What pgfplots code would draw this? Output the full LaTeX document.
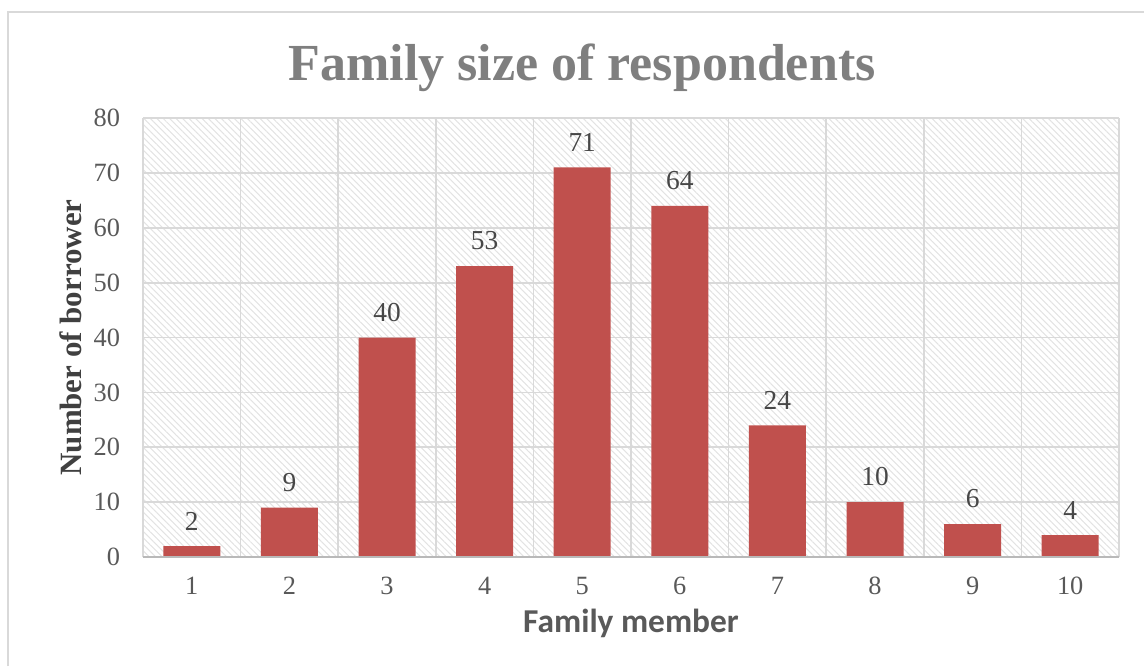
\documentclass[border=0pt]{standalone}
\usepackage{pgfplots}
\pgfplotsset{compat=1.18}
\usepackage{fontspec}
\setmainfont{Liberation Serif}
\newfontfamily\calibri{Carlito}
\usetikzlibrary{patterns.meta}

\definecolor{barred}{HTML}{C0504D}
\definecolor{gridgray}{HTML}{D9D9D9}
\definecolor{ticktext}{HTML}{595959}
\definecolor{titlegray}{HTML}{7F7F7F}

\begin{document}
\begin{tikzpicture}
    \useasboundingbox (0,0) rectangle (11.44,6.66);
    % outer chart frame (top and left edges only are visible)
    \draw[gray!30, line width=0.6pt] (0.08,0) -- (0.08,6.54) -- (11.44,6.54);
    \begin{axis}[
            at={(1.43cm,1.09cm)},
            anchor=south west,
            scale only axis,
            width=9.76cm,
            height=4.39cm,
            xmin=0.5, xmax=10.5,
            ymin=0, ymax=80,
            xtick={1,...,10},
            minor xtick={0.5,1.5,...,10.5},
            ytick={0,10,...,80},
            major x tick style={draw=none},
            minor x tick style={draw=none},
            y tick style={draw=none},
            xminorgrids=true,
            ymajorgrids=true,
            grid style={gridgray, line width=0.5pt},
            minor grid style={gridgray, line width=0.5pt},
            axis line style={draw=none},
            axis background/.style={
                pattern={Lines[angle=-45, distance=1.3pt, line width=0.3pt]},
                pattern color=gray!22},
            tick label style={font=\fontsize{7.5}{9}\selectfont, text=ticktext},
            /pgf/number format/assume math mode=true,
            xticklabel style={yshift=2pt},
            yticklabel style={xshift=-3pt},
            title={\fontsize{14.8}{17}\selectfont\bfseries Family size of respondents},
            title style={text=titlegray, yshift=-2pt, xshift=-0.49cm},
            xlabel={\calibri\fontsize{9.5}{11}\selectfont\bfseries Family member},
            xlabel style={text=ticktext, yshift=3pt},
            ylabel={\fontsize{8.8}{10}\selectfont\bfseries Number of borrower},
            ylabel style={text=black!75, yshift=-3.5pt},
            ybar,
            bar width=0.57cm,
            nodes near coords,
            nodes near coords style={font=\fontsize{7.8}{9}\selectfont, text=black!72, yshift=1pt},
        ]
        \addplot[draw=none, fill=barred] coordinates {
            (1,2) (2,9) (3,40) (4,53) (5,71) (6,64) (7,24) (8,10) (9,6) (10,4)
        };
        \draw[gray!55, line width=0.6pt] (axis cs:0.5,0) -- (axis cs:10.5,0);
    \end{axis}
\end{tikzpicture}
\end{document}
